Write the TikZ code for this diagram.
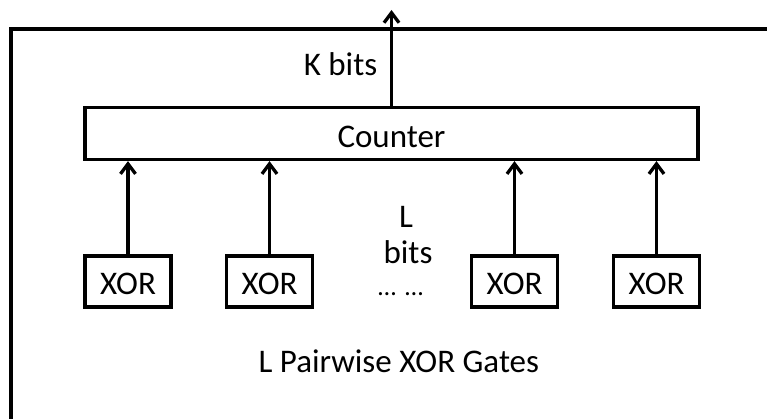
\documentclass[tikz,border=0pt]{standalone}
\usepackage{fontspec}
\setmainfont{Carlito}
\usetikzlibrary{arrows.meta}
\begin{document}
\begin{tikzpicture}[x=1pt,y=-1pt,
  line width=3.3pt,
  every node/.style={font=\fontsize{33}{36}\selectfont},
  arr/.style={-{Straight Barb[length=10pt,width=15pt,line width=3.3pt]}},
  xorbox/.style={draw,inner sep=0pt,minimum width=86pt,minimum height=51pt,text height=25.6pt,text depth=0pt},
  lbl/.style={inner sep=0pt,anchor=base}]
\useasboundingbox (0,0) rectangle (767,419);
\clip (0,0) rectangle (767,419);
% outer frame (partly outside the picture)
\coordinate (fbl) at (11,440);
\coordinate (ftl) at (11,29);
\coordinate (ftr) at (790,29);
\draw (fbl) -- (ftl) -- (ftr);
% counter
\node[draw,inner sep=0pt,minimum width=613pt,minimum height=52pt,text height=28.4pt,text depth=0pt] (ctr) at (391.5,133.5) {Counter};
% output
\coordinate (out) at (392,10);
\draw[arr] (ctr.north) -- (ctr.north |- out);
\node[lbl] (kbits) at (340.5,76) {K bits};
% xor gates
\node[xorbox] (x1) at (128,281.5) {XOR};
\node[xorbox] (x2) at (269.5,281.5) {XOR};
\node[xorbox] (x3) at (514.5,281.5) {XOR};
\node[xorbox] (x4) at (656.5,281.5) {XOR};
\foreach \g in {x1,x2,x3,x4}
  \draw[arr] (\g.north) -- (\g.north |- ctr.south);
% labels
\node[lbl] (l) at (406,228) {L};
\node[lbl] (bits) at (408,263) {bits};
\node[lbl,font=\fontsize{26}{28}\selectfont] (dots) at (400.5,295) {…\hspace{0.35em}…};
\node[lbl] (gates) at (398.8,372.7) {L Pairwise XOR Gates};
\end{tikzpicture}
\end{document}
